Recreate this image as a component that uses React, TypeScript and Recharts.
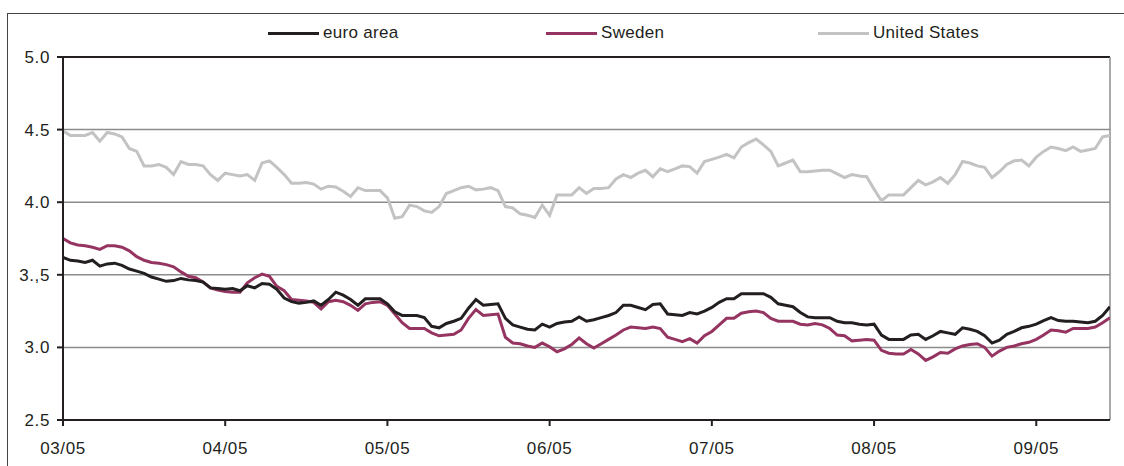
import React from 'react';
import { LineChart, Line, XAxis, YAxis, CartesianGrid, ReferenceLine } from 'recharts';

// trading-day index → month tick every 22 days
const monthLabels = ['03/05', '04/05', '05/05', '06/05', '07/05', '08/05', '09/05'];
const monthTicks = [0, 22, 44, 66, 88, 110, 132];

const yTicks = [2.5, 3, 3.5, 4, 4.5, 5];
const yLabels = ['2.5', '3.0', '3.,5', '4.0', '4.5', '5.0'];

const unitedStates = [
  4.49, 4.46, 4.46, 4.46, 4.48, 4.42, 4.48, 4.47, 4.45, 4.37,
  4.35, 4.25, 4.25, 4.26, 4.24, 4.19, 4.28, 4.26, 4.26, 4.25,
  4.19, 4.15, 4.2, 4.19, 4.18, 4.19, 4.15, 4.27, 4.285, 4.24,
  4.19, 4.13, 4.13, 4.135, 4.125, 4.09, 4.11, 4.105, 4.075, 4.04,
  4.1, 4.08, 4.08, 4.08, 4.03, 3.89, 3.9, 3.98, 3.97, 3.94,
  3.93, 3.97, 4.06, 4.08, 4.1, 4.11, 4.085, 4.09, 4.1, 4.08,
  3.97, 3.96, 3.92, 3.91, 3.895, 3.98, 3.91, 4.05, 4.05, 4.05,
  4.1, 4.06, 4.095, 4.095, 4.1, 4.16, 4.19, 4.17, 4.2, 4.22,
  4.175, 4.23, 4.21, 4.23, 4.25, 4.245, 4.2, 4.28, 4.295, 4.31,
  4.33, 4.305, 4.38, 4.41, 4.435, 4.395, 4.35, 4.25, 4.27, 4.29,
  4.21, 4.21, 4.215, 4.22, 4.22, 4.195, 4.17, 4.19, 4.18, 4.175,
  4.09, 4.01, 4.05, 4.05, 4.05, 4.1, 4.15, 4.12, 4.14, 4.17,
  4.13, 4.19, 4.28, 4.27, 4.25, 4.24, 4.17, 4.21, 4.26, 4.285,
  4.29, 4.25, 4.31, 4.35, 4.38, 4.37, 4.355, 4.38, 4.35, 4.36,
  4.37, 4.45, 4.46,
];

const euroArea = [
  3.62, 3.6, 3.595, 3.585, 3.6, 3.56, 3.575, 3.58, 3.565, 3.54,
  3.525, 3.51, 3.485, 3.47, 3.455, 3.46, 3.475, 3.465, 3.46, 3.45,
  3.41, 3.405, 3.4, 3.405, 3.39, 3.425, 3.41, 3.44, 3.435, 3.4,
  3.34, 3.315, 3.305, 3.31, 3.32, 3.29, 3.33, 3.38, 3.36, 3.33,
  3.29, 3.335, 3.335, 3.335, 3.3, 3.245, 3.22, 3.22, 3.22, 3.205,
  3.145, 3.135, 3.165, 3.18, 3.2, 3.27, 3.33, 3.29, 3.295, 3.3,
  3.2, 3.155, 3.14, 3.125, 3.12, 3.16, 3.14, 3.165, 3.175, 3.18,
  3.21, 3.18, 3.19, 3.205, 3.22, 3.24, 3.29, 3.29, 3.275, 3.26,
  3.295, 3.3, 3.23, 3.225, 3.22, 3.24, 3.23, 3.25, 3.275, 3.31,
  3.335, 3.335, 3.37, 3.37, 3.37, 3.37, 3.345, 3.3, 3.29, 3.28,
  3.24, 3.21, 3.205, 3.205, 3.205, 3.18, 3.17, 3.17, 3.16, 3.155,
  3.16, 3.085, 3.055, 3.055, 3.055, 3.085, 3.09, 3.055, 3.08, 3.11,
  3.1, 3.09, 3.135, 3.125, 3.11, 3.08, 3.03, 3.05, 3.09, 3.11,
  3.135, 3.145, 3.16, 3.185, 3.205, 3.185, 3.18, 3.18, 3.175, 3.17,
  3.18, 3.22, 3.28,
];

const sweden = [
  3.75, 3.72, 3.705, 3.7, 3.69, 3.675, 3.7, 3.7, 3.69, 3.665,
  3.625, 3.6, 3.585, 3.58, 3.57, 3.555, 3.52, 3.49, 3.48, 3.45,
  3.41, 3.395, 3.385, 3.38, 3.38, 3.445, 3.48, 3.505, 3.49, 3.42,
  3.39, 3.33, 3.325, 3.32, 3.31, 3.265, 3.315, 3.325, 3.315, 3.29,
  3.255, 3.3, 3.31, 3.315, 3.29, 3.23, 3.17, 3.13, 3.13, 3.13,
  3.1, 3.08, 3.085, 3.09, 3.12, 3.2, 3.26, 3.22, 3.225, 3.23,
  3.07, 3.03, 3.025, 3.01, 3.0, 3.03, 3.005, 2.97, 2.99, 3.02,
  3.065, 3.025, 2.995, 3.025, 3.055, 3.085, 3.12, 3.14, 3.135, 3.13,
  3.14, 3.13, 3.07, 3.055, 3.04, 3.06, 3.03, 3.08, 3.11, 3.155,
  3.2, 3.2, 3.235, 3.245, 3.25, 3.24, 3.2, 3.18, 3.18, 3.18,
  3.16, 3.155, 3.165, 3.155, 3.13, 3.085, 3.08, 3.045, 3.05, 3.055,
  3.05, 2.98, 2.96, 2.955, 2.955, 2.985, 2.955, 2.91, 2.935, 2.965,
  2.96, 2.99, 3.01, 3.02, 3.025, 3.0, 2.94, 2.975, 3.0, 3.01,
  3.025, 3.035, 3.055, 3.085, 3.12, 3.115, 3.105, 3.13, 3.13, 3.13,
  3.14, 3.17, 3.205,
];

const data = euroArea.map((v, i) => ({
  idx: i,
  euro: v,
  sweden: sweden[i],
  us: unitedStates[i],
}));

const FONT = '"Liberation Sans", Arial, sans-serif';
const TEXT = '#231f20';
const EURO = '#231f20';
const SWE = '#953461';
const US = '#c3c3c3';

const legendItems = [
  { label: 'euro area', color: EURO, left: 268 },
  { label: 'Sweden', color: SWE, left: 546 },
  { label: 'United States', color: US, left: 818 },
];

export default function App() {
  const tickStyle = { fontFamily: FONT, fontSize: 17, fill: TEXT, letterSpacing: 0.6 };
  return (
    <div style={{ position: 'absolute', left: 0, top: 0, width: 1124, height: 466, overflow: 'hidden', background: '#fff' }}>
      <div style={{ position: 'absolute', left: 7, top: 13, width: 1200, height: 600, border: '1px solid #444' }} />
      {legendItems.map((it) => (
        <div key={it.label} style={{ position: 'absolute', left: it.left, top: 22, height: 22, display: 'flex', alignItems: 'center' }}>
          <div style={{ width: 51, height: 3, background: it.color, marginRight: 4 }} />
          <span style={{ fontFamily: FONT, fontSize: 17, color: TEXT, letterSpacing: 0.3 }}>{it.label}</span>
        </div>
      ))}
      <div style={{ position: 'absolute', left: 0, top: 0 }}>
        <LineChart width={1124} height={466} data={data} margin={{ top: 57, right: 14, left: 0, bottom: 16 }}>
          <CartesianGrid horizontal vertical={false} stroke="#8c8c8c" strokeWidth={1.5} />
          <XAxis
            dataKey="idx"
            type="number"
            domain={[0, 142]}
            ticks={monthTicks}
            tickFormatter={(v) => monthLabels[monthTicks.indexOf(v)]}
            height={30}
            tickSize={6}
            tickMargin={16}
            stroke="#231f20"
            strokeWidth={2}
            tick={tickStyle}
            interval={0}
            allowDataOverflow
          />
          <YAxis
            type="number"
            domain={[2.5, 5]}
            ticks={yTicks}
            tickFormatter={(v) => yLabels[yTicks.indexOf(v)]}
            width={63}
            tickSize={6}
            tickMargin={7}
            stroke="#231f20"
            strokeWidth={2}
            tick={tickStyle}
            interval={0}
          />
          <ReferenceLine y={5} stroke="#231f20" strokeWidth={2} />
          <ReferenceLine x={142} stroke="#8c8c8c" strokeWidth={1.5} />
          <Line type="linear" dataKey="us" stroke={US} strokeWidth={3} dot={false} isAnimationActive={false} />
          <Line type="linear" dataKey="sweden" stroke={SWE} strokeWidth={3} dot={false} isAnimationActive={false} />
          <Line type="linear" dataKey="euro" stroke={EURO} strokeWidth={3} dot={false} isAnimationActive={false} />
        </LineChart>
      </div>
    </div>
  );
}
